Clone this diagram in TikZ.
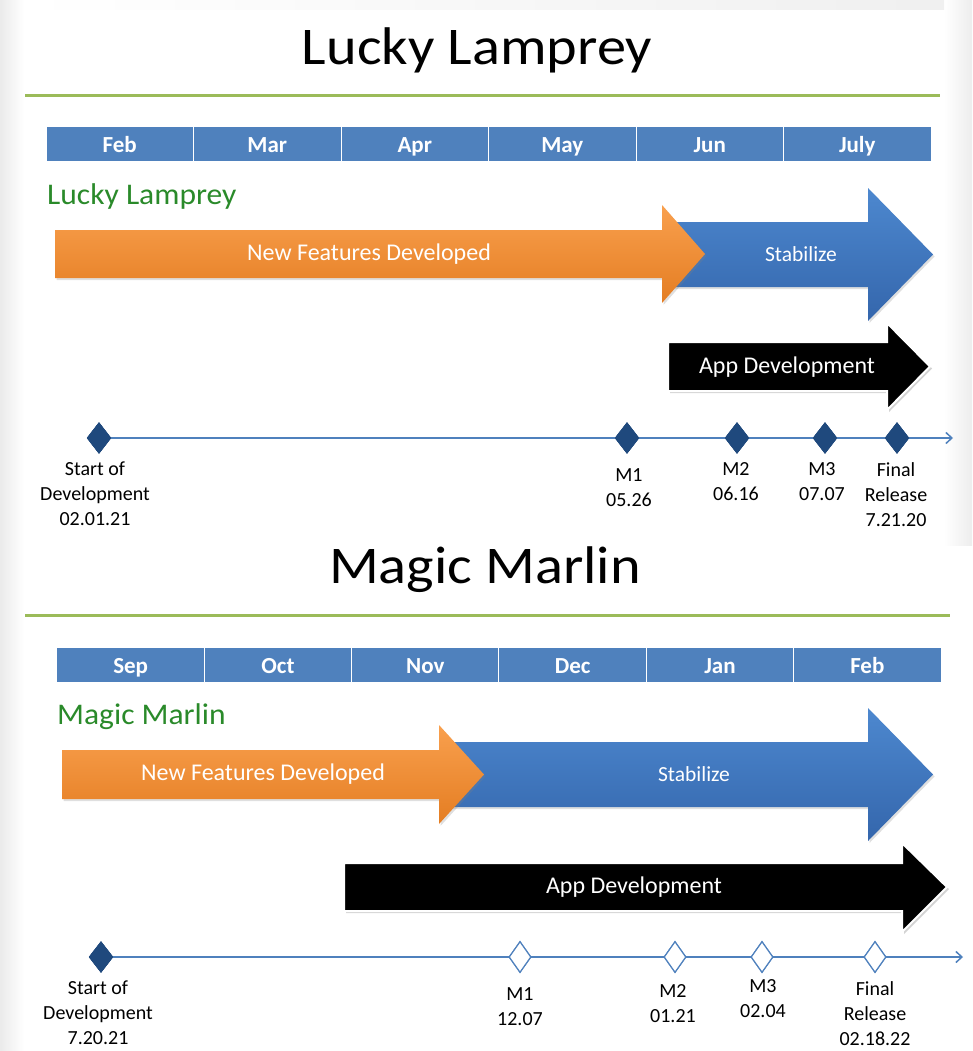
\documentclass[tikz,border=0pt]{standalone}
\usepackage{fontspec}
\setmainfont{Carlito}
\newfontfamily\widefont[FakeStretch=1.1]{Carlito}
\newfontfamily\semiwidefont[FakeStretch=1.05]{Carlito}
\usetikzlibrary{shadows,arrows.meta,shapes.geometric}
\definecolor{mbar}{HTML}{4F81BD}
\definecolor{divg}{HTML}{9BBB59}
\definecolor{lblg}{HTML}{2A8A2A}
\definecolor{orgT}{HTML}{F9A04E}
\definecolor{orgB}{HTML}{E47D22}
\definecolor{bluT}{HTML}{4D88CF}
\definecolor{bluB}{HTML}{3466AC}
\definecolor{navy}{HTML}{1F497D}
\definecolor{tline}{HTML}{4F81BD}
\begin{document}
\begin{tikzpicture}[x=1pt,y=-1pt,
  title/.style={font=\widefont\fontsize{53}{58}\selectfont, text=black},
  divider/.style={draw=divg, line width=3pt},
  month/.style={fill=mbar, draw=white, line width=1pt, text=white, minimum width=147.5pt, minimum height=35pt, inner sep=0pt, text height=17pt, text depth=1pt, font=\bfseries\fontsize{23}{26}\selectfont},
  glabel/.style={anchor=west, text=lblg, inner sep=0pt, font=\semiwidefont\fontsize{30}{33}\selectfont},
  orangearrow/.style={top color=orgT, bottom color=orgB, draw=none, drop shadow={opacity=0.25, shadow xshift=1.5pt, shadow yshift=-2pt}},
  bluearrow/.style={top color=bluT, bottom color=bluB, draw=none, drop shadow={opacity=0.25, shadow xshift=1.5pt, shadow yshift=-2pt}},
  blackarrow/.style={fill=black, draw=white, line width=2pt, drop shadow={opacity=0.35, shadow xshift=2pt, shadow yshift=-2pt}},
  atext/.style={text=white, inner sep=0pt},
  tl/.style={draw=tline, line width=2pt, -{Straight Barb[length=6pt,width=11pt,line width=1.5pt]}},
  msf/.style={diamond, fill=navy, draw=navy, minimum width=24pt, minimum height=31pt, inner sep=0pt},
  msh/.style={diamond, fill=white, draw=tline, line width=1.2pt, minimum width=22pt, minimum height=31pt, inner sep=0pt},
  mlabel/.style={anchor=north, align=center, inner sep=0pt, font=\fontsize{20}{25}\selectfont}
]
\useasboundingbox (0,0) rectangle (972,1051);
% faint slide background edges
\shade[left color=black!8, right color=white] (0,0) rectangle (24,1051);
\shade[left color=white, right color=black!7] (944,0) rectangle (972,545);
\shade[left color=white, right color=black!6] (24,0) rectangle (944,10);

% ================= Lucky Lamprey =================
\node[title] (t1) at (477,50) {Lucky Lamprey};
\draw[divider] (25,96) -- (940,96);
\foreach \m [count=\i] in {Feb,Mar,Apr,May,Jun,July}
  \node[month] (ma\i) at ({46+147.5*(\i-0.5)},144.5) {\m};
\node[glabel] (g1) at (47,197) {Lucky Lamprey};

\path[bluearrow] (673,222) -- (868,222) -- (868,188) -- (933,254.5) -- (868,321) -- (868,287) -- (673,287) -- cycle;
\path[orangearrow] (55,230) -- (662,230) -- (662,205) -- (705,254) -- (662,303) -- (662,278) -- (55,278) -- cycle;
\node[atext, font=\fontsize{24}{28}\selectfont] (nf1) at (369,254) {New Features Developed};
\node[atext, font=\fontsize{21.5}{24}\selectfont] (st1) at (801,254) {Stabilize};
\path[blackarrow] (668,342) -- (887,342) -- (887,323) -- (930,366.5) -- (887,410) -- (887,391) -- (668,391) -- cycle;
\node[atext, font=\fontsize{24}{28}\selectfont] (ad1) at (787,367) {App Development};

\coordinate (e1) at (953,438);
\node[msf] (s1) at (99,438) {};
\node[msf] (a1) at (627,438) {};
\node[msf] (b1) at (737,438) {};
\node[msf] (c1) at (825,438) {};
\node[msf] (f1) at (897,438) {};
\draw[tl] (s1) -- (e1);
\foreach \n in {s1,a1,b1,c1,f1} \node[msf] at (\n) {};
\node[mlabel] (ls1) at (95,462) {Start of\\Development\\02.01.21};
\node[mlabel] (la1) at (629,468) {M1\\05.26};
\node[mlabel] (lb1) at (736,462) {M2\\06.16};
\node[mlabel] (lc1) at (822,462) {M3\\07.07};
\node[mlabel] (lf1) at (896,462) {Final\\Release\\7.21.20};

% ================= Magic Marlin =================
\node[title] (t2) at (485,570) {Magic Marlin};
\draw[divider] (25,615) -- (950,615);
\foreach \m [count=\i] in {Sep,Oct,Nov,Dec,Jan,Feb}
  \node[month] (mb\i) at ({57+147.33*(\i-0.5)},665) {\m};
\node[glabel] (g2) at (57,717) {Magic Marlin};

\path[bluearrow] (450,742) -- (868,742) -- (868,708) -- (933,774.5) -- (868,841) -- (868,807) -- (450,807) -- cycle;
\path[orangearrow] (62,750) -- (439,750) -- (439,725) -- (484,774.5) -- (439,824) -- (439,799) -- (62,799) -- cycle;
\node[atext, font=\fontsize{24}{28}\selectfont] (nf2) at (263,774) {New Features Developed};
\node[atext, font=\fontsize{21.5}{24}\selectfont] (st2) at (694,774) {Stabilize};
\path[blackarrow] (344,863) -- (902,863) -- (902,843) -- (947,887) -- (902,932) -- (902,911) -- (344,911) -- cycle;
\node[atext, font=\fontsize{24}{28}\selectfont] (ad2) at (634,887) {App Development};

\coordinate (e2) at (963,957);
\node[msf] (s2) at (101,957) {};
\node[msh] (a2) at (520,957) {};
\node[msh] (b2) at (675,957) {};
\node[msh] (c2) at (762,957) {};
\node[msh] (f2) at (875,957) {};
\draw[tl] (s2) -- (e2);
\node[msf] at (s2) {};
\foreach \n in {a2,b2,c2,f2} \node[msh] at (\n) {};
\node[mlabel] (ls2) at (98,981) {Start of\\Development\\7.20.21};
\node[mlabel] (la2) at (520,987) {M1\\12.07};
\node[mlabel] (lb2) at (673,984) {M2\\01.21};
\node[mlabel] (lc2) at (763,979) {M3\\02.04};
\node[mlabel] (lf2) at (875,981) {Final\\Release\\02.18.22};
\end{tikzpicture}
\end{document}
